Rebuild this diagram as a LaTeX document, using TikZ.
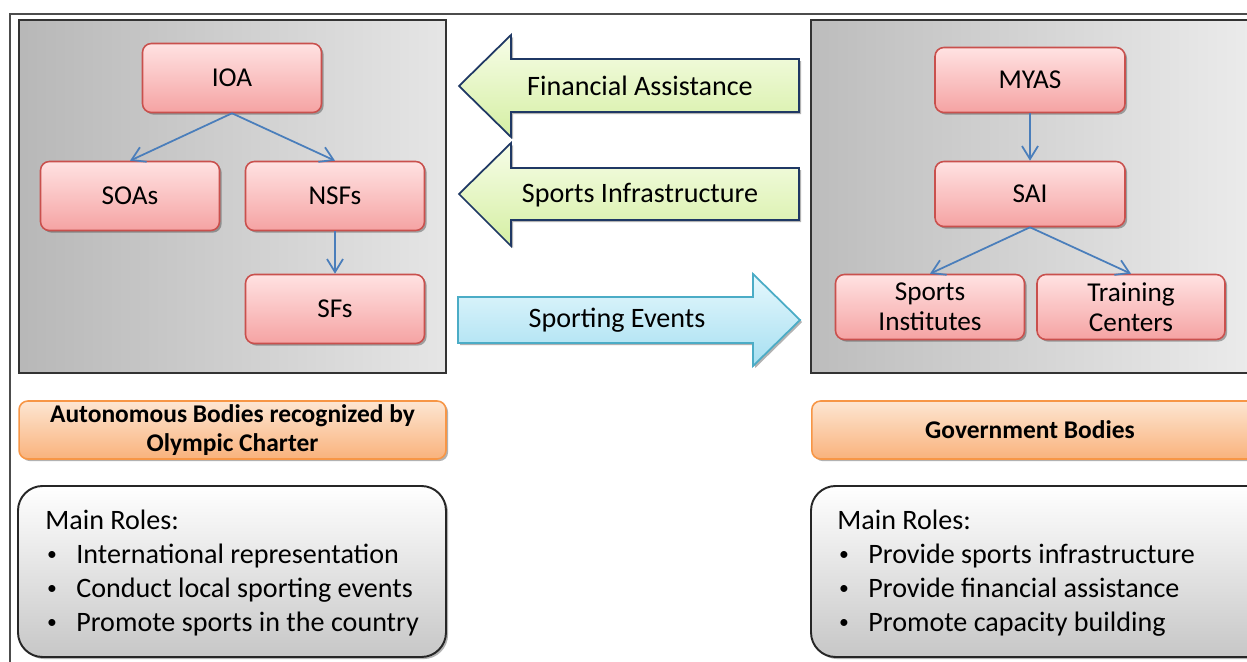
\documentclass[tikz,border=0pt]{standalone}
\usepackage{fontspec}
\setmainfont{Carlito}
\usetikzlibrary{arrows.meta,shadows,positioning}

\definecolor{pinktop}{HTML}{FFE2E2}
\definecolor{pinkbot}{HTML}{F5A3A3}
\definecolor{pinkline}{HTML}{C9504D}
\definecolor{linkblue}{HTML}{4A7EBB}
\definecolor{greentop}{HTML}{F7FDE8}
\definecolor{greenbot}{HTML}{D5EFA3}
\definecolor{navyline}{HTML}{1F3864}
\definecolor{cyantop}{HTML}{E6F8FD}
\definecolor{cyanbot}{HTML}{A6DFF1}
\definecolor{cyanline}{HTML}{4BACC6}
\definecolor{orangetop}{HTML}{FDE6D2}
\definecolor{orangebot}{HTML}{F9B27C}
\definecolor{orangeline}{HTML}{F79646}

\tikzset{
    softshadow/.style={drop shadow={shadow xshift=1.2pt, shadow yshift=-1.2pt, opacity=.3, fill=black}},
    orgbox/.style={draw=pinkline, line width=.9pt, rounded corners=5pt,
        top color=pinktop, bottom color=pinkbot, align=center,
        font=\fontsize{15.5}{17}\selectfont, softshadow},
    link/.style={->, draw=linkblue, line width=1pt},
    panel/.style={draw=black!80, line width=1.1pt},
    flowarrow/.style={line width=1pt, softshadow},
    flowtext/.style={font=\fontsize{16}{18}\selectfont},
    groupbox/.style={draw=orangeline, line width=.9pt, rounded corners=5pt,
        top color=orangetop, bottom color=orangebot, align=center,
        font=\fontsize{14.5}{17}\bfseries\selectfont, softshadow},
    rolebox/.style={draw=black!85, line width=1.1pt, rounded corners=14pt,
        top color=white, bottom color=black!22, softshadow},
    roletext/.style={align=left, inner sep=0pt, anchor=north west,
        font=\fontsize{16}{19.2}\selectfont},
}
\newcommand{\rolebullet}{\makebox[0.62cm][l]{\hspace{1pt}\raisebox{.2ex}{\scalebox{.7}{•}}}}

\begin{document}
\begin{tikzpicture}[
    x=0.02cm, y=-0.02cm, % one unit = one pixel, y downwards
    > = {Straight Barb[length=2.6mm, width=3.2mm]}, % arrow head style
]
\path[use as bounding box, clip] (0,0) rectangle (1247,662);
\fill[white] (0,0) rectangle (1247,662);

% outer frame
\draw[black!70, line width=1.2pt] (10,680) -- (10,14) -- (1270,14);

% panels
\path[panel, shading angle=135, left color=black!28, right color=black!10]
    (19,20) rectangle (446,373);
\path[panel, shading angle=-135, left color=black!26, right color=black!7]
    (811,20) rectangle (1270,373);

% autonomous bodies
\node[orgbox, minimum width=3.58cm, minimum height=1.38cm] (ioa) at (232,78) {IOA};
\node[orgbox, minimum width=3.58cm, minimum height=1.38cm] (soas) at (130,196) {SOAs};
\node[orgbox, minimum width=3.58cm, minimum height=1.38cm] (nsfs) at (335,196) {NSFs};
\node[orgbox, minimum width=3.58cm, minimum height=1.38cm] (sfs) at (335,309) {SFs};

\draw[link] (ioa.south) -- (soas.north);
\draw[link] (ioa.south) -- (nsfs.north);
\draw[link] (nsfs.south) -- (sfs.north);

% government bodies
\node[orgbox, minimum width=3.8cm, minimum height=1.3cm] (myas) at (1030,80) {MYAS};
\node[orgbox, minimum width=3.8cm, minimum height=1.3cm] (sai) at (1030,194) {SAI};
\node[orgbox, minimum width=3.78cm, minimum height=1.3cm, inner sep=1pt] (inst) at (930,307) {Sports\\Institutes};
\node[orgbox, minimum width=3.76cm, minimum height=1.3cm, inner sep=1pt] (train) at (1131,307) {Training\\Centers};

\draw[link] (myas.south) -- (sai.north);
\draw[link] (sai.south) -- (inst.north);
\draw[link] (sai.south) -- (train.north);

% flows between the two sides
\draw[flowarrow, draw=navyline, top color=greentop, bottom color=greenbot]
    (799,59) -- (511,59) -- (511,35) -- (459,86) -- (511,137) -- (511,112) -- (799,112) -- cycle;
\node[flowtext] (fin) at (640,86) {Financial Assistance};

\draw[flowarrow, draw=navyline, top color=greentop, bottom color=greenbot]
    (799,168) -- (511,168) -- (511,143) -- (459,194) -- (511,246) -- (511,220) -- (799,220) -- cycle;
\node[flowtext] (infra) at (640,195) {Sports Infrastructure};

\draw[flowarrow, draw=cyanline, top color=cyantop, bottom color=cyanbot]
    (458,297) -- (753,297) -- (753,274) -- (800,320) -- (753,366) -- (753,343) -- (458,343) -- cycle;
\node[flowtext] (events) at (617,320) {Sporting Events};

% labels
\node[groupbox, minimum width=8.54cm, minimum height=1.16cm, inner sep=1pt] (auto) at (232.5,430)
    {Autonomous Bodies recognized by\\Olympic Charter};
\node[groupbox, minimum width=9.2cm, minimum height=1.16cm, anchor=west] (gov) at (811,430) {};
\node[font=\fontsize{14.5}{17}\bfseries\selectfont] (govtext) at (1030,430) {Government Bodies};

% main roles
\path[rolebox] (18,486) rectangle (446,657);
\node[roletext] (autoroles) at (45,510) {Main Roles:\\
    \rolebullet International representation\\
    \rolebullet Conduct local sporting events\\
    \rolebullet Promote sports in the country};

\path[rolebox] (811,486) rectangle (1275,657);
\node[roletext] (govroles) at (837,510) {Main Roles:\\
    \rolebullet Provide sports infrastructure\\
    \rolebullet Provide financial assistance\\
    \rolebullet Promote capacity building};
\end{tikzpicture}
\end{document}
